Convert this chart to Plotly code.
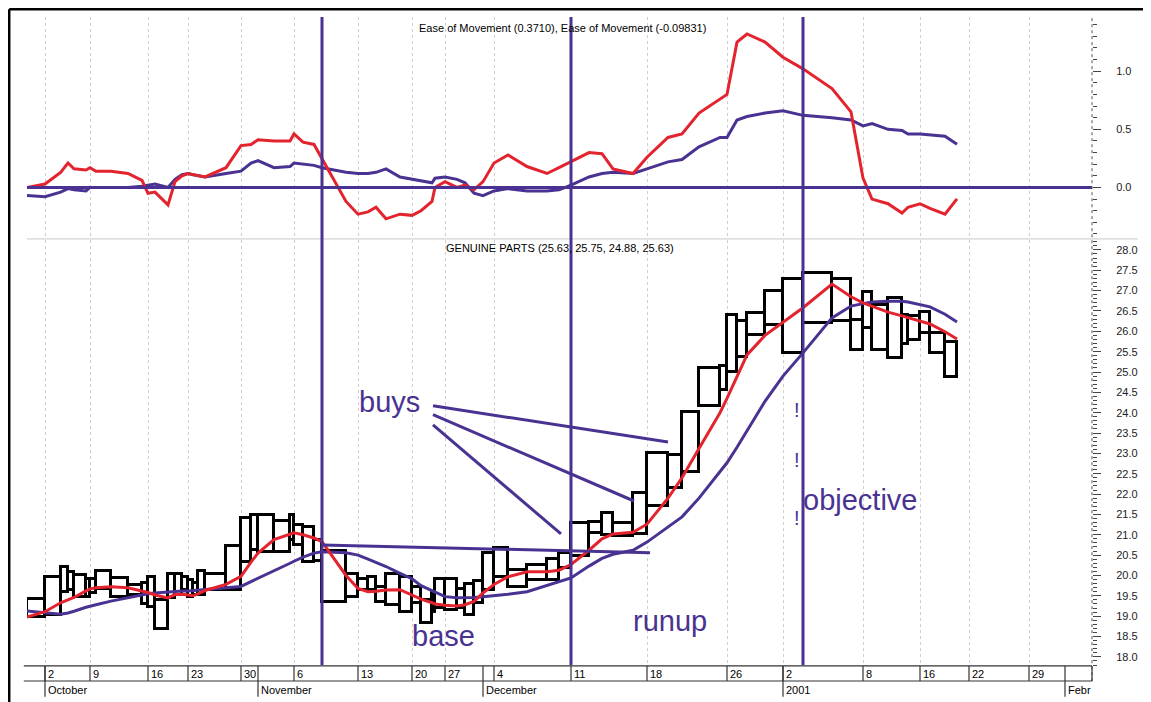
import pandas as pd
import plotly.graph_objects as go

# one equivolume box per trading day (box width = volume, height = high - low)
dates = [
    "2000-09-29",
    "2000-10-02", "2000-10-03", "2000-10-04", "2000-10-05", "2000-10-06",
    "2000-10-09", "2000-10-10", "2000-10-11", "2000-10-12", "2000-10-13",
    "2000-10-16", "2000-10-17", "2000-10-18", "2000-10-19", "2000-10-20",
    "2000-10-23", "2000-10-24", "2000-10-25", "2000-10-26", "2000-10-27",
    "2000-10-30", "2000-10-31", "2000-11-01", "2000-11-02", "2000-11-03",
    "2000-11-06", "2000-11-07", "2000-11-08", "2000-11-09", "2000-11-10",
    "2000-11-13", "2000-11-14", "2000-11-15", "2000-11-16", "2000-11-17",
    "2000-11-20", "2000-11-21", "2000-11-22", "2000-11-24",
    "2000-11-27", "2000-11-28", "2000-11-29", "2000-11-30", "2000-12-01",
    "2000-12-04", "2000-12-05", "2000-12-06", "2000-12-07", "2000-12-08",
    "2000-12-11", "2000-12-12", "2000-12-13", "2000-12-14", "2000-12-15",
    "2000-12-18", "2000-12-19", "2000-12-20", "2000-12-21", "2000-12-22",
    "2000-12-26", "2000-12-27", "2000-12-28", "2000-12-29",
    "2001-01-02", "2001-01-03", "2001-01-04", "2001-01-05",
    "2001-01-08", "2001-01-09", "2001-01-10", "2001-01-11", "2001-01-12",
    "2001-01-16", "2001-01-17", "2001-01-18",
]

high = [
    19.42,
    19.97, 20.21, 20.09, 20.01, 19.92,
    19.92, 20.11, 19.94, 19.77, 19.82,
    19.97, 19.40, 20.04, 20.04, 19.97,
    19.89, 19.82, 20.11, 20.04, 20.73,
    21.42, 21.49, 21.49, 21.34, 21.49,
    21.24, 21.19, 20.87, 20.60, 20.04,
    19.92, 19.97, 19.72, 20.04, 19.97,
    19.72, 19.40, 19.60, 19.92,
    19.92, 19.67, 19.79, 19.87, 20.56,
    20.68, 20.14, 20.26, 20.41, 20.56,
    21.29, 21.32, 21.54, 21.29, 22.03,
    23.01, 22.96, 24.02, 25.10, 25.15,
    26.40, 26.26, 26.45, 26.99,
    27.29, 27.43, 27.29, 26.28,
    26.97, 26.65, 26.82, 26.40, 26.38,
    26.48, 25.96, 25.75,
]

low = [
    18.98,
    19.03, 19.60, 19.65, 19.47, 19.47,
    19.57, 19.67, 19.47, 19.52, 19.30,
    19.23, 18.69, 19.45, 19.52, 19.65,
    19.47, 19.52, 19.52, 19.65, 19.65,
    20.33, 20.63, 20.58, 20.58, 20.87,
    20.75, 20.33, 20.36, 19.35, 19.47,
    19.65, 19.65, 19.35, 19.28, 19.11,
    19.33, 18.84, 19.11, 19.20,
    19.15, 19.20, 19.03, 19.33, 19.65,
    19.97, 19.72, 19.89, 19.89, 20.19,
    20.48, 21.05, 21.00, 20.97, 21.02,
    21.71, 22.15, 22.55, 24.17, 24.56,
    25.00, 25.37, 25.91, 26.16,
    25.47, 26.21, 26.26, 25.54,
    26.08, 25.54, 25.35, 25.69, 25.79,
    25.96, 25.47, 24.88,
]

# thousands of shares
volume = [
    450,
    390, 185, 150, 300, 100,
    150, 375, 425, 350, 150,
    175, 325, 175, 175, 150,
    125, 125, 175, 525, 375,
    250, 175, 400, 400, 100,
    225, 275, 200, 600, 300,
    250, 200, 250, 350, 300,
    225, 275, 75, 250,
    300, 200, 225, 225, 275,
    350, 475, 500, 300, 300,
    450, 325, 275, 500, 350,
    525, 350, 425, 525, 175,
    250, 250, 450, 450,
    500, 725, 475, 300,
    225, 400, 350, 150, 300,
    250, 375, 300,
]

# projected days to the right of the last box
future_dates = [
    "2001-01-19", "2001-01-22", "2001-01-23", "2001-01-24", "2001-01-25",
    "2001-01-26", "2001-01-29", "2001-01-30", "2001-01-31", "2001-02-01",
    "2001-02-02",
]
future_volume = 300

# indicator values at each box boundary (first value = left edge of first box)
ma_fast = [
    18.98, 19.11, 19.33, 19.40, 19.46, 19.62, 19.67,
    19.70, 19.72, 19.70, 19.62, 19.58,
    19.52, 19.45, 19.53, 19.54, 19.52,
    19.50, 19.55, 19.63, 19.78, 19.98,
    20.33, 20.55, 20.88, 21.03, 21.05,
    21.00, 20.92, 20.83, 20.00, 19.68,
    19.60, 19.61, 19.64, 19.65, 19.53,
    19.42, 19.33, 19.30, 19.27,
    19.25, 19.28, 19.36, 19.57, 19.78,
    19.97, 20.09, 20.09, 20.13, 20.27,
    20.62, 20.90, 21.02, 21.06, 21.26,
    21.90, 22.40, 23.12, 24.00, 24.35,
    24.88, 25.42, 25.90, 26.23,
    26.58, 27.16, 26.85, 26.70,
    26.62, 26.47, 26.38, 26.34, 26.26,
    26.18, 25.99, 25.81,
]

ma_slow = [
    19.13, 19.08, 19.05, 19.08, 19.12, 19.22, 19.25,
    19.28, 19.37, 19.45, 19.53, 19.55,
    19.57, 19.60, 19.61, 19.62, 19.62,
    19.63, 19.65, 19.67, 19.70, 19.73,
    19.85, 19.93, 20.10, 20.30, 20.35,
    20.45, 20.55, 20.58, 20.56, 20.50,
    20.40, 20.32, 20.22, 20.05, 19.92,
    19.75, 19.63, 19.58, 19.48,
    19.45, 19.45, 19.46, 19.48, 19.50,
    19.54, 19.60, 19.75, 19.85, 19.94,
    20.23, 20.42, 20.52, 20.62, 20.82,
    21.20, 21.44, 21.90, 22.57, 22.77,
    23.15, 23.55, 24.28, 24.90,
    25.47, 26.33, 26.62, 26.68,
    26.72, 26.74, 26.74, 26.72, 26.66,
    26.60, 26.42, 26.23,
]

eom_fast = [
    0.00, 0.03, 0.13, 0.21, 0.16, 0.15, 0.17,
    0.14, 0.14, 0.12, 0.06, -0.05,
    -0.04, -0.15, 0.05, 0.10, 0.12,
    0.11, 0.10, 0.09, 0.17, 0.36,
    0.37, 0.41, 0.40, 0.40, 0.46,
    0.39, 0.37, 0.25, -0.12, -0.23,
    -0.21, -0.17, -0.27, -0.23, -0.24,
    -0.20, -0.12, 0.00, 0.05,
    0.00, 0.02, -0.02, 0.05, 0.21,
    0.28, 0.18, 0.12, 0.17, 0.22,
    0.30, 0.29, 0.16, 0.12, 0.26,
    0.43, 0.46, 0.64, 0.76, 0.80,
    1.25, 1.32, 1.25, 1.12,
    1.02, 0.85, 0.65, 0.08,
    -0.10, -0.14, -0.22, -0.17, -0.14,
    -0.18, -0.23, -0.098,
]

eom_slow = [
    -0.07, -0.08, -0.04, -0.01, -0.02, -0.03, 0.00,
    0.00, 0.00, 0.00, 0.01, 0.02,
    0.03, 0.00, 0.07, 0.11, 0.12,
    0.11, 0.10, 0.09, 0.12, 0.14,
    0.21, 0.23, 0.17, 0.18, 0.21,
    0.20, 0.19, 0.17, 0.13, 0.12,
    0.12, 0.13, 0.16, 0.09, 0.07,
    0.06, 0.04, 0.08, 0.09,
    0.07, 0.04, -0.05, -0.07, -0.03,
    -0.01, -0.03, -0.03, -0.02, 0.02,
    0.09, 0.12, 0.13, 0.12, 0.16,
    0.22, 0.24, 0.35, 0.43, 0.43,
    0.58, 0.61, 0.64, 0.66,
    0.62, 0.60, 0.58, 0.53,
    0.55, 0.50, 0.49, 0.46, 0.46,
    0.45, 0.44, 0.371,
]

month_labels = ["October", "November", "December", "2001", "Febr"]
marker_dates = ["2000-11-09", "2000-12-11", "2001-01-03"]

PURPLE = "#4a3292"
RED = "#e3242e"
FONT = "Liberation Sans, Arial, sans-serif"

# equivolume x positions
edges = [0]
for v in volume:
    edges.append(edges[-1] + v)
box_start = edges[:-1]
future_start = [edges[-1] + future_volume * i for i in range(len(future_dates))]
cal = pd.to_datetime(dates + future_dates)
cal_x = box_start + future_start

week_x, week_lbl, month_x = [], [], []
for i in range(1, len(cal)):
    if cal[i].isocalendar()[1] != cal[i - 1].isocalendar()[1]:
        week_x.append(cal_x[i])
        week_lbl.append(str(cal[i].day))
    if cal[i].month != cal[i - 1].month:
        month_x.append(cal_x[i])

x_end = 26625

fig = go.Figure()

# --- Ease of Movement panel
fig.add_trace(go.Scatter(x=edges, y=eom_slow, mode="lines",
                         line=dict(color=PURPLE, width=3), xaxis="x", yaxis="y"))
fig.add_trace(go.Scatter(x=edges, y=eom_fast, mode="lines",
                         line=dict(color=RED, width=3), xaxis="x", yaxis="y"))

# --- price panel: equivolume boxes + moving averages
fig.add_trace(go.Bar(
    x=box_start, y=[h - l for h, l in zip(high, low)], base=low,
    width=volume, offset=0,
    marker=dict(color="rgba(0,0,0,0)", line=dict(color="black", width=3)),
    xaxis="x2", yaxis="y2",
))
fig.add_trace(go.Scatter(x=edges, y=ma_slow, mode="lines",
                         line=dict(color=PURPLE, width=3), xaxis="x2", yaxis="y2"))
fig.add_trace(go.Scatter(x=edges, y=ma_fast, mode="lines",
                         line=dict(color=RED, width=3), xaxis="x2", yaxis="y2"))

xcommon = dict(range=[0, x_end], tickvals=week_x, showticklabels=False, ticks="",
               showgrid=True, gridcolor="#cfcfcf", griddash="dot", gridwidth=1,
               zeroline=False, showline=False)
ycommon = dict(side="right", showgrid=False, zeroline=False, showline=False,
               ticks="outside", ticklen=8, tickwidth=1, tickcolor="#444",
               dtick=0.5, tickformat=".1f", ticklabelstandoff=13,
               tickfont=dict(family=FONT, size=11, color="#222"),
               minor=dict(dtick=0.1, ticks="outside", ticklen=4, tickcolor="#444"))

# the page body adds an 8px margin, so the figure is 8px smaller each way
fig.update_layout(
    width=1143, height=694,
    margin=dict(l=19, r=59, t=9, b=37),
    paper_bgcolor="white", plot_bgcolor="white",
    showlegend=False, font=dict(family=FONT, size=11, color="black"),
    bargap=0,
    xaxis=dict(domain=[0, 1], anchor="y", **xcommon),
    xaxis2=dict(domain=[0, 1], anchor="y2", matches="x", **xcommon),
    yaxis=dict(domain=[0.658, 1], anchor="x", range=[-0.44, 1.466], **ycommon),
    yaxis2=dict(domain=[0, 0.656], anchor="x2", range=[17.80, 28.246], **ycommon),
)

shapes = []
# zero line of the indicator
shapes.append(dict(type="line", xref="paper", yref="y", x0=0, x1=1, y0=0, y1=0,
                   line=dict(color=PURPLE, width=3)))
# panel separator
shapes.append(dict(type="line", xref="paper", yref="paper", x0=0, x1=1.043,
                   y0=0.6575, y1=0.6575, line=dict(color="#c8c8c8", width=1)))
# right axis line
shapes.append(dict(type="line", xref="paper", yref="paper", x0=1, x1=1, y0=-0.025,
                   y1=1, line=dict(color="#555", width=1, dash="dot")))
# outer frame
shapes.append(dict(type="line", xref="paper", yref="paper", x0=-0.0167, x1=-0.0167,
                   y0=-0.06, y1=1.012, line=dict(color="black", width=2.5)))
shapes.append(dict(type="line", xref="paper", yref="paper", x0=-0.0167, x1=1.06,
                   y0=1.012, y1=1.012, line=dict(color="black", width=2.5)))
# vertical study markers
for d in marker_dates:
    xm = cal_x[list(cal).index(pd.Timestamp(d))]
    shapes.append(dict(type="line", xref="x", yref="paper", x0=xm, x1=xm, y0=0, y1=1,
                       line=dict(color=PURPLE, width=3)))
# drawn trend lines (volume units, price)
drawn_lines = [
    (7375, 20.75, 15575, 20.56),
    (10150, 24.17, 16025, 23.28),
    (10150, 23.95, 15175, 21.83),
    (10150, 23.70, 13350, 21.02),
]
for x0, y0, x1, y1 in drawn_lines:
    shapes.append(dict(type="line", xref="x2", yref="y2", x0=x0, y0=y0, x1=x1, y1=y1,
                       line=dict(color=PURPLE, width=3)))

# date axis rows
y_top, y_mid, y_bot = -0.0015, -0.0247, -0.049
for yy in (y_top, y_mid):
    shapes.append(dict(type="line", xref="paper", yref="paper", x0=-0.003, x1=1,
                       y0=yy, y1=yy, line=dict(color="#333", width=1.2)))
shapes.append(dict(type="line", xref="paper", yref="paper", x0=1, x1=1,
                   y0=y_top, y1=y_mid, line=dict(color="#333", width=1.2)))
for wx in week_x:
    shapes.append(dict(type="line", xref="x", yref="paper", x0=wx, x1=wx,
                       y0=y_top, y1=y_mid, line=dict(color="#333", width=1.2)))
for mx in month_x:
    shapes.append(dict(type="line", xref="x", yref="paper", x0=mx, x1=mx,
                       y0=y_top, y1=y_bot, line=dict(color="#333", width=1.2)))

annotations = []
for wx, lbl in zip(week_x, week_lbl):
    annotations.append(dict(x=wx, y=-0.0135, xref="x", yref="paper", text=lbl,
                            showarrow=False, xanchor="left", yanchor="middle", xshift=1,
                            font=dict(family=FONT, size=11, color="black")))
for mx, lbl in zip(month_x, month_labels):
    annotations.append(dict(x=mx, y=-0.0385, xref="x", yref="paper", text=lbl,
                            showarrow=False, xanchor="left", yanchor="middle", xshift=1,
                            font=dict(family=FONT, size=11, color="black")))

annotations.append(dict(x=0.503, y=0.983, xref="paper", yref="paper",
                        text="Ease of Movement (0.3710), Ease of Movement (-0.09831)",
                        showarrow=False, xanchor="center", yanchor="middle",
                        font=dict(family=FONT, size=11, color="black")))
annotations.append(dict(x=0.5005, y=0.6435, xref="paper", yref="paper",
                        text="GENUINE PARTS (25.63, 25.75, 24.88, 25.63)",
                        showarrow=False, xanchor="center", yanchor="middle",
                        font=dict(family=FONT, size=11, color="black")))

for txt, xx, yy, anchor in [("buys", 9050, 24.27, "center"), ("base", 10400, 18.52, "center"),
                            ("runup", 16075, 18.88, "center"),
                            ("objective", 19350, 21.86, "left")]:
    annotations.append(dict(x=xx, y=yy, xref="x2", yref="y2", text=txt, showarrow=False,
                            xanchor=anchor, yanchor="middle",
                            font=dict(family=FONT, size=29, color=PURPLE)))
for yy in (24.07, 22.84, 21.42):
    annotations.append(dict(x=19250, y=yy, xref="x2", yref="y2", text="!", showarrow=False,
                            xanchor="center", yanchor="middle",
                            font=dict(family=FONT, size=20, color=PURPLE)))

fig.update_layout(shapes=shapes, annotations=annotations)

fig.write_html("out.html")
